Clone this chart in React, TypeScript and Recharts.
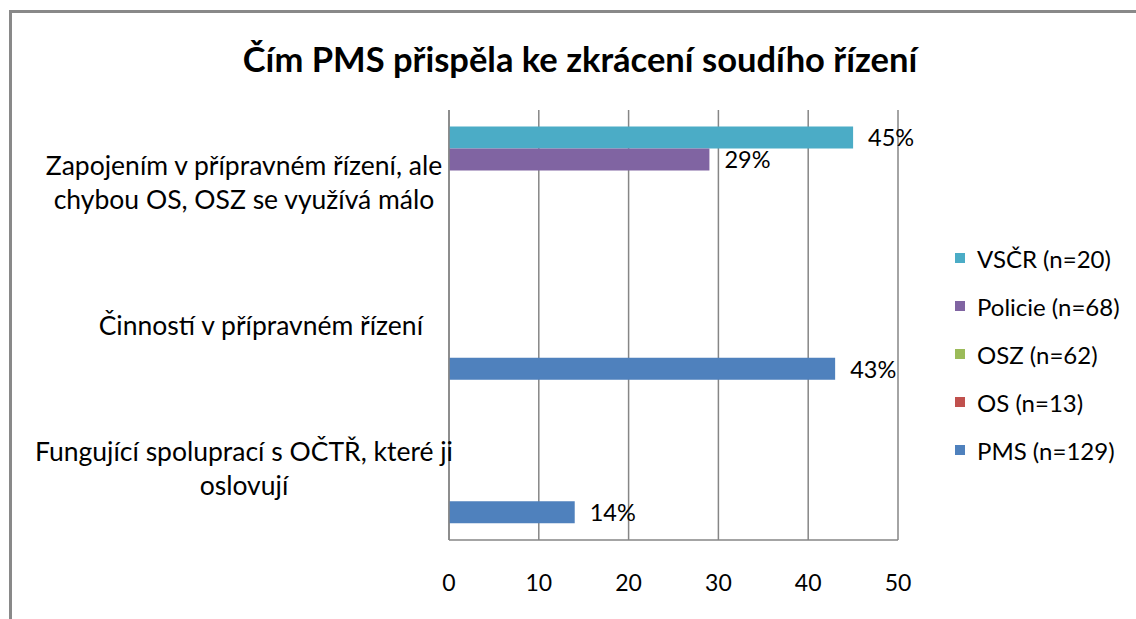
import { Bar, BarChart, CartesianGrid, LabelList, Legend, XAxis, YAxis } from "recharts";

const FONT = "Lato, 'Noto Sans', sans-serif";

const categories = [
  "Zapojením v přípravném řízení, ale chybou OS, OSZ se využívá málo",
  "Činností v přípravném řízení",
  "Fungující spoluprací s OČTŘ, které ji oslovují",
];
// jak Excel zalomil popisky kategorií
const categoryLines = [
  ["Zapojením v přípravném řízení, ale", "chybou OS, OSZ se využívá málo"],
  ["Činností v přípravném řízení"],
  ["Fungující spoluprací s OČTŘ, které ji", "oslovují"],
];

const seriesKeys = ["vscr", "policie", "osz", "os", "pms"];
const seriesNames = ["VSČR (n=20)", "Policie (n=68)", "OSZ (n=62)", "OS (n=13)", "PMS (n=129)"];
const seriesColors = ["#4BACC6", "#8064A2", "#9BBB59", "#C0504D", "#4F81BD"];

const vscr = [45, null, null];
const policie = [29, null, null];
const osz = [null, null, null];
const os = [null, null, null];
const pms = [null, 43, 14];

const xTicks = [0, 10, 20, 30, 40, 50];

const data = categories.map((cat, i) => ({
  cat,
  vscr: vscr[i],
  policie: policie[i],
  osz: osz[i],
  os: os[i],
  pms: pms[i],
}));

function CategoryTick({ x, y, payload }: any) {
  const lines = categoryLines[payload.index] ?? [payload.value];
  const lh = 34;
  const y0 = y - ((lines.length - 1) * lh) / 2;
  // víceřádkové popisky Excel centruje, jednořádkové drží u osy
  const multi = lines.length > 1;
  const tx = multi ? 244 : x - 18;
  return (
    <text
      x={tx}
      y={y0}
      textAnchor={multi ? "middle" : "end"}
      dominantBaseline="central"
      fontFamily={FONT}
      fontSize={26.5}
      fill="#000"
    >
      {lines.map((l: string, i: number) => (
        <tspan key={i} x={tx} y={y0 + i * lh}>
          {l}
        </tspan>
      ))}
    </text>
  );
}

function ValueLabel({ x, y, width, height, value }: any) {
  if (value == null) return null;
  return (
    <text
      x={x + width + 15}
      y={y + height / 2}
      dominantBaseline="central"
      fontFamily={FONT}
      fontSize={23.5}
      fill="#000"
    >
      {value}%
    </text>
  );
}

function LegendBox() {
  return (
    <div style={{ fontFamily: FONT, fontSize: 24, color: "#000" }}>
      {seriesNames.map((name, i) => (
        <div key={name} style={{ height: 48, display: "flex", alignItems: "center" }}>
          <span style={{ width: 10, height: 10, background: seriesColors[i], marginRight: 12 }} />
          <span>{name}</span>
        </div>
      ))}
    </div>
  );
}

export default function App() {
  return (
    <div style={{ position: "absolute", left: 0, top: 0, width: 1136, height: 619, background: "#fff", overflow: "hidden" }}>
      <div
        style={{
          position: "absolute",
          left: 9,
          top: 10,
          width: 1140,
          height: 620,
          borderLeft: "3px solid #898989",
          borderTop: "3px solid #898989",
        }}
      />
      <div
        style={{
          position: "absolute",
          left: 0,
          top: 38,
          width: 1160,
          textAlign: "center",
          fontFamily: FONT,
          fontWeight: 700,
          fontSize: 34.5,
          color: "#000",
        }}
      >
        Čím PMS přispěla ke zkrácení soudího řízení
      </div>
      <div style={{ position: "absolute", left: 0, top: 0 }}>
        <BarChart
          width={1136}
          height={619}
          data={data}
          layout="vertical"
          margin={{ top: 110, right: 238, bottom: 0, left: 9 }}
          barCategoryGap="11.5%"
          barGap={0}
        >
          <CartesianGrid horizontal={false} stroke="#868686" strokeWidth={1.5} />
          <XAxis
            type="number"
            domain={[0, 50]}
            ticks={xTicks}
            height={79}
            tickLine={false}
            tickMargin={29}
            axisLine={{ stroke: "#868686", strokeWidth: 1.5 }}
            tick={{ fill: "#000", fontSize: 23, fontFamily: FONT }}
          />
          <YAxis
            type="category"
            dataKey="cat"
            width={440}
            tickLine={false}
            axisLine={{ stroke: "#868686", strokeWidth: 1.5 }}
            tick={<CategoryTick />}
          />
          <Legend
            layout="horizontal"
            verticalAlign="middle"
            align="center"
            content={() => <LegendBox />}
            wrapperStyle={{ left: 955, top: 234, width: 180 }}
          />
          {seriesKeys.map((k, i) => (
            <Bar key={k} dataKey={k} name={seriesNames[i]} fill={seriesColors[i]} isAnimationActive={false}>
              <LabelList dataKey={k} content={<ValueLabel />} />
            </Bar>
          ))}
        </BarChart>
      </div>
    </div>
  );
}
